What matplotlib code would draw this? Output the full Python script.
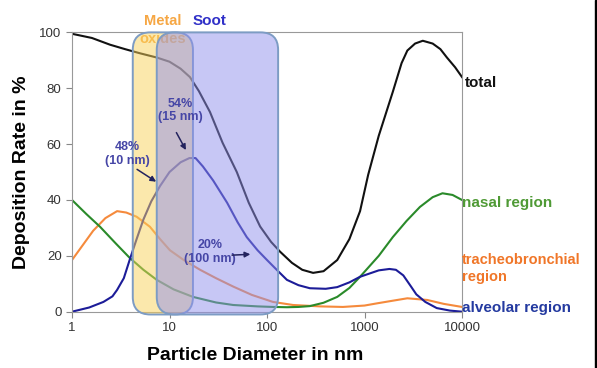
import matplotlib.pyplot as plt
import numpy as np
from matplotlib.patches import FancyBboxPatch, Rectangle

# ---- data ----
total_x = [1, 1.6, 2.45, 3.5, 5, 7.4, 10, 13, 16.2, 20, 26, 35, 49, 65, 85, 110, 136,
           180, 230, 297, 380, 525, 700, 900, 1090, 1400, 1950, 2400, 2750, 3300,
           3960, 5000, 6000, 7000, 8500, 10000]
total_y = [99.5, 98, 95.6, 94, 92.5, 91, 89.5, 87, 84, 79, 71.5, 60.5, 50, 39, 30.5,
           25, 21.5, 17.5, 15, 13.9, 14.5, 18.5, 26, 36, 49, 63, 78.7, 89, 93.5, 96,
           97, 96, 94, 91, 87.5, 84]

alv_x = [1, 1.5, 2.1, 2.6, 2.9, 3.4, 3.9, 4.6, 5.4, 6.5, 8, 10, 13, 16, 18.5, 22, 28,
         39, 50, 62, 80, 100, 130, 160, 210, 275, 400, 525, 700, 900, 1400, 1800,
         2100, 2500, 3000, 3400, 4200, 5500, 7500, 10000]
alv_y = [0, 1.5, 3.5, 5.5, 7.8, 12, 18.5, 26, 33, 39.5, 45, 50, 53.5, 55, 55, 52, 47,
         39, 32, 26.7, 22, 18.5, 14.5, 11.4, 9.5, 8.4, 8.2, 8.8, 10.5, 12.5, 14.8,
         15.3, 15, 13, 9, 6.2, 3.5, 1.3, 0.4, 0]

nasal_x = [1, 1.4, 1.94, 2.8, 3.9, 5.4, 7.4, 11, 17.4, 30, 45, 80, 115, 160, 210,
           275, 380, 525, 700, 900, 1400, 1950, 2700, 3700, 5000, 6300, 8000, 10000]
nasal_y = [40, 35, 30.4, 24.5, 19.3, 15, 11.4, 8, 5.3, 3.3, 2.4, 1.9, 1.7, 1.6, 1.7,
           2, 3.2, 5.3, 8.5, 12.5, 20, 26.7, 32.5, 37.5, 41, 42.4, 41.8, 40]

tb_x = [1, 1.3, 1.65, 2.2, 2.9, 3.6, 4.6, 6.3, 8, 10.1, 14, 20.6, 30, 45, 70, 115,
        185, 350, 600, 1000, 1350, 2000, 2750, 4400, 6500, 10000]
tb_y = [18.5, 24, 29, 33.5, 36, 35.5, 34, 30.4, 26, 22, 18.5, 15, 12, 9, 6, 3.5,
        2.4, 1.9, 1.7, 2.2, 3, 4, 4.8, 4.2, 2.8, 1.7]

metal_range = (4.2, 17.4)
soot_range = (7.4, 130)

x_ticks = [1, 10, 100, 1000, 10000]
y_ticks = [0, 20, 40, 60, 80, 100]

C_TOTAL = "#111111"
C_ALV = "#1c1c98"
C_NASAL = "#2a8a2a"
C_TB = "#f58a3c"
C_ANN = "#4646a6"

plt.rcParams.update({"font.family": "Liberation Sans"})

fig = plt.figure(figsize=(5.97, 3.68), dpi=100)
ax = fig.add_axes([0.1206, 0.153, 0.6533, 0.759])

ax.plot(tb_x, tb_y, color=C_TB, lw=1.5)
ax.plot(nasal_x, nasal_y, color=C_NASAL, lw=1.5)
ax.plot(alv_x, alv_y, color=C_ALV, lw=1.5)
ax.plot(total_x, total_y, color=C_TOTAL, lw=1.5)

ax.set_xscale("log")
ax.set_xlim(1, 10000)
ax.set_ylim(0, 100)
ax.set_xticks(x_ticks)
ax.set_xticklabels([str(v) for v in x_ticks])
ax.minorticks_off()
ax.set_yticks(y_ticks)
ax.tick_params(labelsize=9.5, colors="#888888", labelcolor="#333333", length=4)
for s in ax.spines.values():
    s.set_color("#999999")

# rounded bands for the particle classes (axes fraction from data)
def to_axes(xv, yv):
    return ax.transAxes.inverted().transform(ax.transData.transform((xv, yv)))

aspect = (0.6533 * 5.97) / (0.759 * 3.68)
for (x0, x1), fc, alpha in [(metal_range, "#f9d25a", 0.5), (soot_range, "#9090ec", 0.5)]:
    a0 = to_axes(x0, 0)
    a1 = to_axes(x1, 100)
    for kw in (dict(facecolor=fc, alpha=alpha, edgecolor="none"),
               dict(facecolor="none", edgecolor="#7d9cc4", lw=1.4)):
        box = FancyBboxPatch((a0[0], a0[1] - 0.01), a1[0] - a0[0], a1[1] - a0[1] + 0.01,
                             boxstyle="round,pad=0,rounding_size=0.045",
                             mutation_aspect=aspect, transform=ax.transAxes,
                             clip_on=False, zorder=3, **kw)
        ax.add_patch(box)

# class labels above the plot (the bands sit over "oxides")
ax.text(np.sqrt(metal_range[0] * metal_range[1]), 100.8, "Metal\noxides", ha="center",
        va="center", fontsize=10.5, fontweight="bold", color="#f6a744",
        linespacing=1.35, clip_on=False, zorder=2.5)
ax.text(26, 104, "Soot", ha="center", va="center", fontsize=11, fontweight="bold",
        color="#3030c8", clip_on=False, zorder=4)

# peak annotations
ann = dict(ha="center", va="center", fontsize=9, fontweight="bold", color=C_ANN,
           linespacing=1.2, zorder=5)
arr = dict(arrowstyle="-|>", color="#23235e", lw=1.1, mutation_scale=8)
ax.text(12.8, 72, "54%\n(15 nm)", **ann)
ax.annotate("", xy=(15.2, 57), xytext=(11.4, 65), arrowprops=arr, zorder=5)
ax.text(3.7, 56.5, "48%\n(10 nm)", **ann)
ax.annotate("", xy=(7.7, 46), xytext=(4.4, 51.5), arrowprops=arr, zorder=5)
ax.text(26, 21.5, "20%\n(100 nm)", **ann)
ax.annotate("", xy=(72, 20.6), xytext=(41, 20.2), arrowprops=arr, zorder=5)

# curve labels on the right
right = dict(ha="left", va="center", fontsize=11, fontweight="bold", clip_on=False)
ax.text(10700, 82, "total", color="#111111", **right)
ax.text(10000, 39, "nasal region", color="#4f9a35", **right)
ax.text(10000, 15.5, "tracheobronchial\nregion", color="#f07628", linespacing=1.2,
        **dict(right, fontsize=10.5))
ax.text(10000, 1.5, "alveolar region", color="#243aa0", **right)

ax.set_xlabel("Particle Diameter in nm", fontsize=14, fontweight="bold")
ax.xaxis.set_label_coords(0.47, -0.125)
ax.set_ylabel("Deposition Rate in %", fontsize=14, fontweight="bold")
ax.yaxis.set_label_coords(-0.107, 0.5)

fig.patches.append(Rectangle((0.9966, 0), 0.004, 1, transform=fig.transFigure,
                             color="black", zorder=10))

fig.savefig("out.png", dpi=100)
